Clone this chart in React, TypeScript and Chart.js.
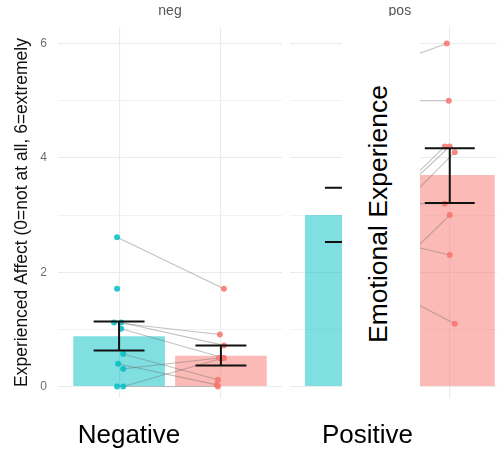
import React, { useEffect, useRef } from "react";
import { Chart, registerables } from "chart.js";

Chart.register(...registerables);

// ---------- data ----------
const facetTitles = ["neg", "pos"];
const conditionLabels = ["Negative", "Positive"];
const overlayTitle = "Emotional Experience";
const yAxisTitle = "Experienced Affect (0=not at all, 6=extremely";
const yTickValues = [0, 1, 2, 3, 4, 5, 6];
const xCategoryValues = [1, 2];

// negative facet
const negMeans = [0.88, 0.54];
const negLow = [0.63, 0.37];
const negHigh = [1.14, 0.72];
const negFirst = [2.61, 1.71, 1.12, 1.12, 1.01, 0.57, 0.4, 0.31, 0.0, 0.0];
const negSecond = [1.71, null, 0.91, 0.72, 0.5, 0.12, 0.03, 0.5, 0.0, 0.5];
const negFirstJitter = [-0.02, -0.02, -0.05, 0.02, 0.02, 0.04, -0.01, 0.04, -0.02, 0.04];
const negSecondJitter = [0.03, 0, -0.01, 0.03, 0.03, -0.03, -0.04, -0.02, -0.03, 0.02];

// positive facet
const posMeans = [3.0, 3.7];
const posLow = [2.53, 3.21];
const posHigh = [3.48, 4.17];
const posFirst = [5.4, 5.0, 2.6, 2.5, 2.3, 3.2, 1.26, 2.7, 2.06];
const posSecond = [6.0, 5.0, 4.2, 4.2, 4.1, 3.2, 3.0, 2.3, 1.1];
const posFirstJitter = [0.02, -0.03, 0.01, -0.04, 0.03, 0.0, -0.02, 0.04, -0.01];
const posSecondJitter = [-0.03, -0.01, -0.05, 0.0, 0.05, -0.05, 0.0, 0.0, 0.05];

// ---------- styles ----------
const FONT = '"Liberation Sans", Arial, Helvetica, sans-serif';
const TEAL_FILL = "rgba(0,191,196,0.5)";
const SALMON_FILL = "rgba(248,118,109,0.5)";
const TEAL_POINT = "rgba(0,191,196,0.85)";
const SALMON_POINT = "rgba(248,118,109,0.85)";
const PAIR_LINE = "rgba(110,110,110,0.42)";
const GRID_MAJOR = "#ebebeb";
const GRID_MINOR = "#f1f1f1";

const errorBarPlugin = {
  id: "errorBars",
  afterDatasetsDraw(chart: any, _args: any, opts: any) {
    const { ctx, scales } = chart;
    const x = scales.x;
    const y = scales.y;
    ctx.save();
    ctx.strokeStyle = opts.color;
    ctx.lineWidth = opts.lineWidth;
    opts.low.forEach((lo: number, i: number) => {
      const hi = opts.high[i];
      const xv = xCategoryValues[i];
      const xc = x.getPixelForValue(xv);
      const half = Math.abs(x.getPixelForValue(xv + opts.halfWidth) - xc);
      const yl = y.getPixelForValue(lo);
      const yh = y.getPixelForValue(hi);
      ctx.beginPath();
      ctx.moveTo(xc - half, yh);
      ctx.lineTo(xc + half, yh);
      ctx.moveTo(xc, yh);
      ctx.lineTo(xc, yl);
      ctx.moveTo(xc - half, yl);
      ctx.lineTo(xc + half, yl);
      ctx.stroke();
    });
    ctx.restore();
  },
};

const stripPlugin = {
  id: "strip",
  afterDraw(chart: any, _args: any, opts: any) {
    const { ctx, scales } = chart;
    ctx.save();
    ctx.font = opts.font;
    ctx.fillStyle = opts.color;
    ctx.textAlign = "center";
    ctx.textBaseline = "alphabetic";
    ctx.fillText(opts.text, scales.x.getPixelForValue(opts.center), opts.baseline);
    ctx.restore();
  },
};

function buildConfig(p: {
  title: string;
  means: number[];
  low: number[];
  high: number[];
  first: number[];
  second: (number | null)[];
  firstJ: number[];
  secondJ: number[];
  xMax: number;
  showY: boolean;
  padLeft: number;
  padRight: number;
}) {
  const lineSets = p.first
    .map((v, i) => ({ v, i }))
    .filter(({ i }) => p.second[i] !== null)
    .map(({ v, i }) => ({
      type: "line" as const,
      data: [
        { x: xCategoryValues[0] + p.firstJ[i], y: v },
        { x: xCategoryValues[1] + p.secondJ[i], y: p.second[i] as number },
      ],
      borderColor: PAIR_LINE,
      borderWidth: 1.1,
      pointRadius: 0,
      fill: false,
      order: 5,
    }));

  const firstPts = p.first.map((v, i) => ({ x: xCategoryValues[0] + p.firstJ[i], y: v }));
  const secondPts = p.second
    .map((v, i) => (v === null ? null : { x: xCategoryValues[1] + p.secondJ[i], y: v }))
    .filter((d) => d !== null);

  return {
    type: "bar" as const,
    data: {
      datasets: [
        {
          type: "bar" as const,
          data: p.means.map((m, i) => ({ x: xCategoryValues[i], y: m })),
          backgroundColor: [TEAL_FILL, SALMON_FILL],
          borderWidth: 0,
          barPercentage: 0.9,
          categoryPercentage: 1,
          order: 10,
        },
        ...lineSets,
        {
          type: "scatter" as const,
          data: firstPts,
          backgroundColor: TEAL_POINT,
          borderWidth: 0,
          pointRadius: 3,
          order: 1,
        },
        {
          type: "scatter" as const,
          data: secondPts,
          backgroundColor: SALMON_POINT,
          borderWidth: 0,
          pointRadius: 3,
          order: 1,
        },
      ],
    },
    options: {
      responsive: false,
      animation: false,
      events: [],
      layout: { padding: { top: 27, bottom: 52, left: p.padLeft, right: p.padRight } },
      plugins: {
        legend: { display: false },
        tooltip: { enabled: false },
        errorBars: { low: p.low, high: p.high, halfWidth: 0.25, color: "#111", lineWidth: 2 },
        strip: { text: p.title, center: 1.5, baseline: 15, font: `14px ${FONT}`, color: "#555" },
      },
      scales: {
        x: {
          type: "linear",
          min: 0.4,
          max: p.xMax,
          offset: false,
          afterBuildTicks: (s: any) => {
            s.ticks = xCategoryValues.map((v) => ({ value: v }));
          },
          afterFit: (s: any) => {
            s.height = 0;
          },
          ticks: { display: false },
          grid: { color: GRID_MAJOR, lineWidth: 1.1, drawTicks: false, offset: false },
          border: { display: false },
        },
        y: {
          type: "linear",
          min: -0.2,
          max: 6.29,
          afterBuildTicks: (s: any) => {
            s.ticks = yTickValues.map((v) => ({ value: v }));
          },
          afterFit: (s: any) => {
            s.width = p.showY ? 58 : 0;
          },
          ticks: {
            display: p.showY,
            padding: 11,
            color: "#6e6e6e",
            font: { family: FONT, size: 12 },
            callback: (v: any) => (Number(v) % 2 === 0 ? String(v) : ""),
          },
          grid: {
            drawTicks: false,
            color: (c: any) => (c.tick && c.tick.value % 2 === 0 ? GRID_MAJOR : GRID_MINOR),
            lineWidth: (c: any) => (c.tick && c.tick.value % 2 === 0 ? 1.1 : 0.9),
          },
          border: { display: false },
          title: {
            display: p.showY,
            text: yAxisTitle,
            color: "#111",
            font: { family: FONT, size: 17.5 },
            padding: { top: 12, bottom: 0 },
          },
        },
      },
    },
  };
}

export default function App() {
  const negRef = useRef<HTMLCanvasElement>(null);
  const posRef = useRef<HTMLCanvasElement>(null);

  useEffect(() => {
    const negChart = new Chart(negRef.current as HTMLCanvasElement, {
      ...(buildConfig({
        title: facetTitles[0],
        means: negMeans,
        low: negLow,
        high: negHigh,
        first: negFirst,
        second: negSecond,
        firstJ: negFirstJitter,
        secondJ: negSecondJitter,
        xMax: 2.6,
        showY: true,
        padLeft: 0,
        padRight: 8,
      }) as any),
      plugins: [errorBarPlugin, stripPlugin],
    });
    const posChart = new Chart(posRef.current as HTMLCanvasElement, {
      ...(buildConfig({
        title: facetTitles[1],
        means: posMeans,
        low: posLow,
        high: posHigh,
        first: posFirst,
        second: posSecond,
        firstJ: posFirstJitter,
        secondJ: posSecondJitter,
        xMax: 2.473,
        showY: false,
        padLeft: 8,
        padRight: 0,
      }) as any),
      plugins: [errorBarPlugin, stripPlugin],
    });
    return () => {
      negChart.destroy();
      posChart.destroy();
    };
  }, []);

  return (
    <div
      style={{
        position: "absolute",
        left: 0,
        top: 0,
        width: 501,
        height: 450,
        background: "#fff",
        overflow: "hidden",
        fontFamily: FONT,
      }}
    >
      <canvas
        ref={negRef}
        width={290}
        height={450}
        style={{ position: "absolute", left: 0, top: 0, width: 290, height: 450 }}
      />
      <canvas
        ref={posRef}
        width={219}
        height={450}
        style={{ position: "absolute", left: 282, top: 0, width: 219, height: 450 }}
      />
      <div
        style={{
          position: "absolute",
          left: 342,
          top: 16,
          width: 78,
          height: 434,
          background: "#fff",
        }}
      />
      <div
        style={{
          position: "absolute",
          left: 377.7 - 160,
          top: 213.5 - 15,
          width: 320,
          height: 30,
          lineHeight: "30px",
          fontSize: 26.5,
          textAlign: "center",
          color: "#000",
          transform: "rotate(-90deg)",
          whiteSpace: "nowrap",
        }}
      >
        {overlayTitle}
      </div>
      <div
        style={{
          position: "absolute",
          left: 129 - 100,
          top: 419,
          width: 200,
          lineHeight: "30px",
          fontSize: 26,
          textAlign: "center",
          color: "#000",
        }}
      >
        {conditionLabels[0]}
      </div>
      <div
        style={{
          position: "absolute",
          left: 367.5 - 100,
          top: 419,
          width: 200,
          lineHeight: "30px",
          fontSize: 26,
          textAlign: "center",
          color: "#000",
        }}
      >
        {conditionLabels[1]}
      </div>
    </div>
  );
}
